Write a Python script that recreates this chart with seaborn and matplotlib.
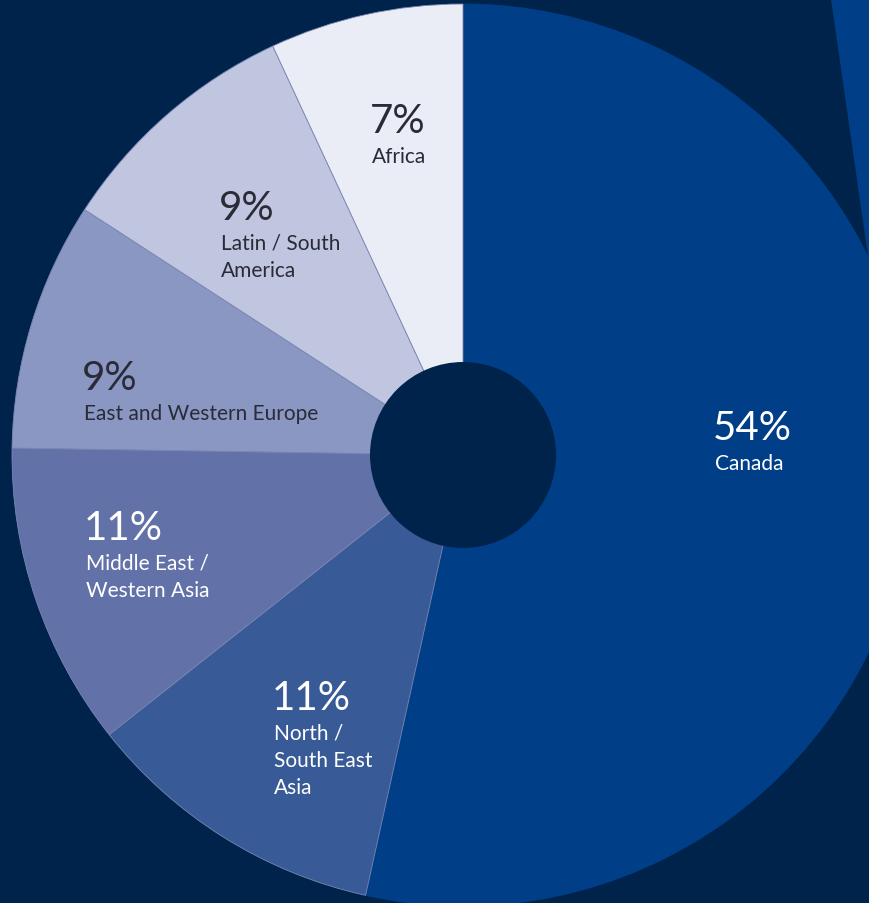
import matplotlib.pyplot as plt
import matplotlib.patches as mpatches
import seaborn as sns

# Share of students by region (reading order: clockwise from top)
regions = ['Canada', 'North /\nSouth East\nAsia', 'Middle East /\nWestern Asia',
           'East and Western Europe', 'Latin / South\nAmerica', 'Africa']
shares = [54, 11, 11, 9, 9, 7]
pct_labels = ['54%', '11%', '11%', '9%', '9%', '7%']

colors = ['#003f87', '#385a96', '#6272a8', '#8a97c2', '#c0c5e0', '#eaedf6']
text_colors = ['white', 'white', 'white', '#2b2b38', '#2b2b38', '#2b2b38']
# left edge / top of the % number for each label (pixel units)
label_pos = [(713, 410), (272, 680), (84, 510), (82, 360), (219, 190), (370, 103)]

sns.set_theme(style='white')
plt.rcParams['font.family'] = ['Lato', 'DejaVu Sans']

bg = '#00234b'
fig = plt.figure(figsize=(8.69, 9.04), dpi=100, facecolor=bg)
ax = fig.add_axes([0, 0, 1, 1])
ax.set_facecolor(bg)

# lighter stripe in the top right corner of the background
ax.add_patch(mpatches.Polygon([(831, 904), (869, 904), (869, 640)], closed=True,
                              color='#003f87', lw=0))

W, H = 869, 904
cx, cy = 463, H - 456
wedges, _ = ax.pie(shares, colors=colors, startangle=90, counterclock=False,
                   center=(cx, cy), radius=451,
                   wedgeprops=dict(linewidth=0.6, edgecolor='#7b86b3'))
wedges[0].set_edgecolor(colors[0])
ax.add_patch(mpatches.Circle((cx, cy), 93, color=bg, lw=0, zorder=5))

for (x, y), pct, name, tc in zip(label_pos, pct_labels, regions, text_colors):
    ax.text(x, H - y, pct, fontsize=29, fontweight='normal', color=tc,
            ha='left', va='top')
    ax.text(x + 2, H - y - 44, name, fontsize=15, fontweight='normal', color=tc,
            ha='left', va='top', linespacing=1.45)

ax.set_xlim(0, W)
ax.set_ylim(0, H)
ax.set_aspect('auto')
ax.axis('off')

fig.savefig('out.png', dpi=100, facecolor=bg)
